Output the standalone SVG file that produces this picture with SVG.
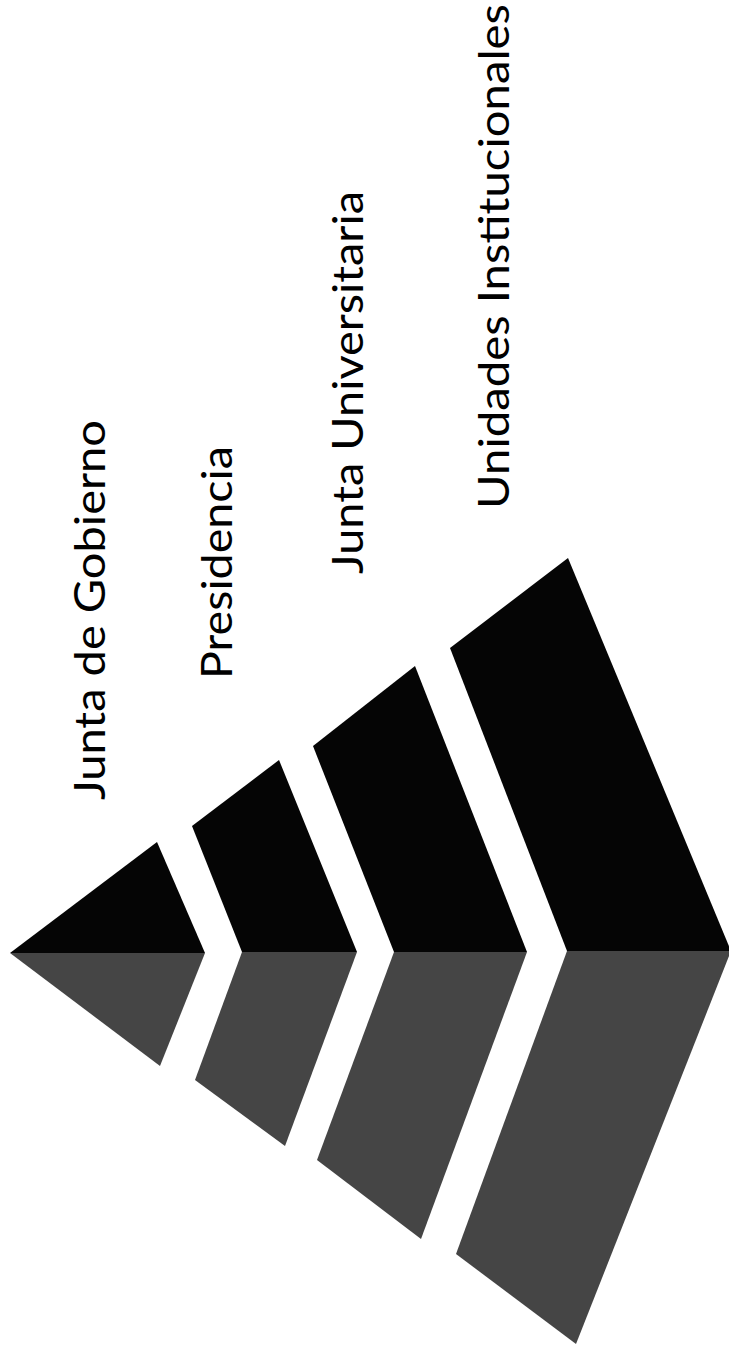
<svg xmlns="http://www.w3.org/2000/svg" width="729" height="1355" viewBox="0 0 729 1355">
  <style>
    .top { fill: #050505; }
    .bot { fill: #454545; }
    .lbl { font-family: "Lato", "Liberation Sans", sans-serif; font-size: 42px; fill: #000; }
  </style>
  <rect width="729" height="1355" fill="#ffffff"/>
  <g id="level1-junta-de-gobierno">
    <polygon class="top" points="10,953 157,842 205,953"/>
    <polygon class="bot" points="10,953 205,953 160,1066"/>
    <text class="lbl" transform="translate(105,800) rotate(-90)" textLength="380" lengthAdjust="spacingAndGlyphs">Junta de Gobierno</text>
  </g>
  <g id="level2-presidencia">
    <polygon class="top" points="192,826 279,760 357,952 242,952"/>
    <polygon class="bot" points="242,952 357,952 285,1146 195,1080"/>
    <text class="lbl" transform="translate(232,679) rotate(-90)" textLength="233" lengthAdjust="spacingAndGlyphs">Presidencia</text>
  </g>
  <g id="level3-junta-universitaria">
    <polygon class="top" points="313,746 415,666 527,952 394,952"/>
    <polygon class="bot" points="394,952 527,952 421,1239 317,1160"/>
    <text class="lbl" transform="translate(363,574) rotate(-90)" textLength="383" lengthAdjust="spacingAndGlyphs">Junta Universitaria</text>
  </g>
  <g id="level4-unidades-institucionales">
    <polygon class="top" points="450,648 568,558 731,951 567,951"/>
    <polygon class="bot" points="567,951 731,951 576,1344 456,1254"/>
    <text class="lbl" transform="translate(509,509) rotate(-90)" textLength="505" lengthAdjust="spacingAndGlyphs">Unidades Institucionales</text>
  </g>
  <g id="connectors"/>
</svg>
